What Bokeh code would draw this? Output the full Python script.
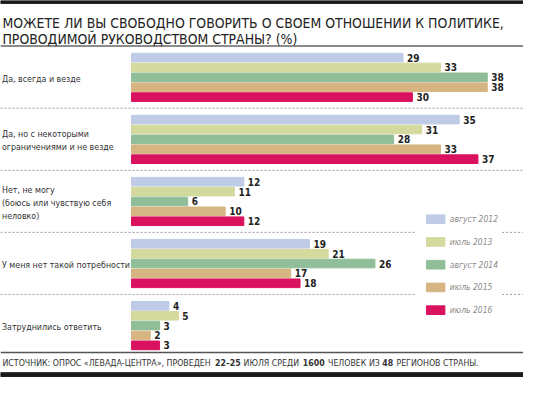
from bokeh.plotting import figure
from bokeh.models import Range1d, ColumnDataSource
from bokeh.embed import file_html
from bokeh.resources import INLINE
from bokeh.core.properties import value

# ---------------- data ----------------
title_lines = ["МОЖЕТЕ ЛИ ВЫ СВОБОДНО ГОВОРИТЬ О СВОЕМ ОТНОШЕНИИ К ПОЛИТИКЕ,",
               "ПРОВОДИМОЙ РУКОВОДСТВОМ СТРАНЫ? (%)"]
categories = ["Да, всегда и везде",
              "Да, но с некоторыми\nограничениями и не везде",
              "Нет, не могу\n(боюсь или чувствую себя\nнеловко)",
              "У меня нет такой потребности",
              "Затруднились ответить"]
series = ["август 2012", "июль 2013", "август 2014", "июль 2015", "июль 2016"]
aug2012 = [29, 35, 12, 19, 4]
jul2013 = [33, 31, 11, 21, 5]
aug2014 = [38, 28, 6, 26, 3]
jul2015 = [38, 33, 10, 17, 2]
jul2016 = [30, 37, 12, 18, 3]
values = [aug2012, jul2013, aug2014, jul2015, jul2016]
colors = ["#bfcbe7", "#d4d99e", "#90be98", "#d6b582", "#d9115f"]
source_parts = [("ИСТОЧНИК: ОПРОС «ЛЕВАДА-ЦЕНТРА», ПРОВЕДЕН", "normal"),
                ("22–25", "bold"),
                ("ИЮЛЯ СРЕДИ", "normal"),
                ("1600", "bold"),
                ("ЧЕЛОВЕК ИЗ", "normal"),
                ("48", "bold"),
                ("РЕГИОНОВ СТРАНЫ.", "normal")]
source_x = [2, 221, 250.5, 311.5, 337.5, 393.5, 408]

# ---------------- layout (in reference-image pixel units) ----------------
W, H = 523, 377          # real canvas size
RW, RH = 539, 393        # layout units (reference picture size)
FONT = "DejaVu Sans Condensed"
bar_x0 = 135             # where value 0 sits
px_per_unit = 9.65
group_top0 = 55
group_pitch = 64.7
bar_pitch = 10.3
bar_h = 9

p = figure(width=W, height=H, output_backend="svg", toolbar_location=None,
           x_range=Range1d(-bar_x0 / px_per_unit, (RW - bar_x0) / px_per_unit),
           y_range=Range1d(RH, 0), x_axis_type=None, y_axis_type=None,
           min_border=0, outline_line_color=None, background_fill_color="white")
p.extra_x_ranges = {"px": Range1d(0, RW)}

# frame lines
p.quad(left=[0], right=[RW], top=[0], bottom=[3], color="#1a1a1a", x_range_name="px")
p.quad(left=[0], right=[RW], top=[388], bottom=[392], color="#1a1a1a", x_range_name="px")
p.segment(x0=[0], x1=[RW], y0=[47.5], y1=[47.5], line_color="#8c8c8c", line_width=2, x_range_name="px")
p.segment(x0=[0], x1=[RW], y0=[367], y1=[367], line_color="#555555", line_width=1.5, x_range_name="px")

# title
for i, t in enumerate(title_lines):
    p.text(x=[2], y=[23 + i * 17], text=[t], text_font=value(FONT), text_font_size="13.9px",
           text_color="#222222", text_baseline="alphabetic", x_range_name="px")

# separators
for g in range(len(categories) - 1):
    ysep = group_top0 + g * group_pitch + 57.3
    if g in (2, 3):
        xs0, xs1 = [0, 517], [427, RW]
    else:
        xs0, xs1 = [0], [RW]
    p.segment(x0=xs0, x1=xs1, y0=[ysep] * len(xs0), y1=[ysep] * len(xs0),
              line_color="#9a9a9a", line_width=1, line_dash="2 2", x_range_name="px")

# bars
for s, (name, vals, col) in enumerate(zip(series, values, colors)):
    ys = [group_top0 + g * group_pitch + s * bar_pitch + bar_h / 2 for g in range(len(categories))]
    src = ColumnDataSource(dict(y=ys, v=vals, lab=[str(v) for v in vals]))
    p.hbar(y="y", left=0, right="v", height=bar_h, color=col, source=src)
    p.text(x="v", y="y", text="lab", source=src, x_offset=4, text_font=value(FONT),
           text_font_size="10px", text_font_style="bold", text_color="#222222",
           text_baseline="middle")

# category labels
for g, cat in enumerate(categories):
    lines = cat.split("\n")
    center = group_top0 + g * group_pitch + 26.5
    for k, ln in enumerate(lines):
        yy = center + (k - (len(lines) - 1) / 2) * 13.8
        p.text(x=[1.5], y=[yy], text=[ln], text_font=value(FONT), text_font_size="8.8px",
               text_color="#333333", text_baseline="middle", x_range_name="px")

# legend
for i, (name, col) in enumerate(zip(series, colors)):
    yc = 228 + i * 23.7
    p.quad(left=[439], right=[458], top=[yc - 4.5], bottom=[yc + 4.5], color=col, x_range_name="px")
    p.text(x=[463], y=[yc], text=[name], text_font=value(FONT), text_font_size="8.5px",
           text_font_style="italic", text_color="#8a8a8a", text_baseline="middle", x_range_name="px")

# source line
for (t, st), xx in zip(source_parts, source_x):
    p.text(x=[xx], y=[377.5], text=[t], text_font=value(FONT), text_font_size="8.75px",
           text_font_style=st, text_color="#333333", text_baseline="middle", x_range_name="px")

open("out.html", "w").write(file_html(p, INLINE))
